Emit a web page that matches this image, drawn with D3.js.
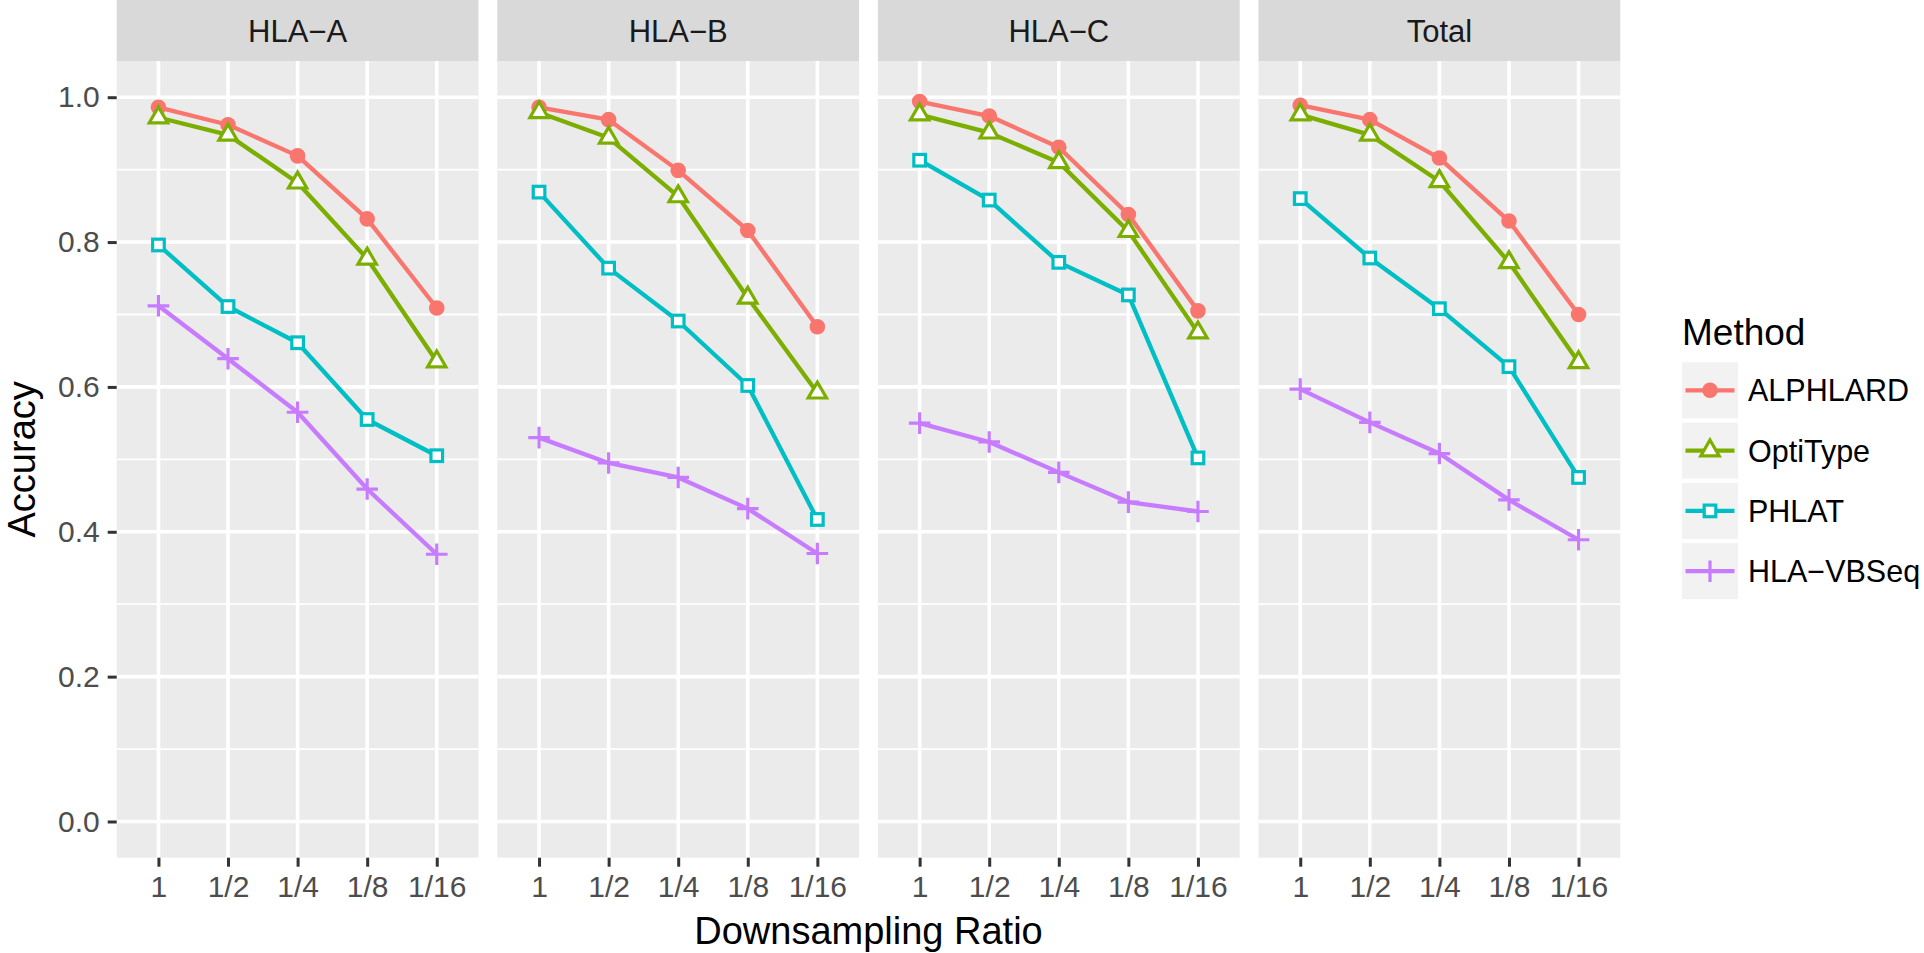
<!DOCTYPE html>
<html>
<head>
<meta charset="utf-8">
<script src="https://cdn.jsdelivr.net/npm/d3@7"></script>
<style>
  body { margin: 0; background: #fff; }
  svg { display: block; font-family: "Liberation Sans", Arial, Helvetica, sans-serif; }
</style>
</head>
<body>
<svg id="chart" width="1924" height="953"></svg>
<script>
// data
const facets = ["HLA−A", "HLA−B", "HLA−C", "Total"];
const ratios = ["1", "1/2", "1/4", "1/8", "1/16"];
const methods = ["ALPHLARD", "OptiType", "PHLAT", "HLA−VBSeq"];
const yTicks = [0, 0.2, 0.4, 0.6, 0.8, 1.0];
const yMinor = [0.1, 0.3, 0.5, 0.7, 0.9];

// one row per facet, one value per ratio
const alphlard = [
    [0.986, 0.962, 0.919, 0.832, 0.709],
    [0.986, 0.969, 0.899, 0.816, 0.683],
    [0.994, 0.974, 0.931, 0.838, 0.705],
    [0.989, 0.969, 0.916, 0.829, 0.700]
];
const optitype = [
    [0.972, 0.948, 0.882, 0.777, 0.635],
    [0.979, 0.944, 0.863, 0.723, 0.592],
    [0.976, 0.951, 0.910, 0.815, 0.675],
    [0.976, 0.948, 0.884, 0.772, 0.634]
];
const phlat = [
    [0.796, 0.711, 0.661, 0.555, 0.505],
    [0.869, 0.764, 0.691, 0.602, 0.417],
    [0.913, 0.858, 0.772, 0.727, 0.502],
    [0.860, 0.778, 0.708, 0.628, 0.475]
];
const hlavbseq = [
    [0.712, 0.639, 0.565, 0.459, 0.369],
    [0.530, 0.495, 0.475, 0.432, 0.370],
    [0.550, 0.524, 0.482, 0.441, 0.428],
    [0.597, 0.551, 0.508, 0.444, 0.389]
];
const seriesValues = [alphlard, optitype, phlat, hlavbseq];
const colors = ["#F8766D", "#7CAE00", "#00BFC4", "#C77CFF"];

const svg = d3.select("#chart");

const panelTop = 61, panelBottom = 857.7;

const facetX = d3.scaleBand()
    .domain(facets)
    .range([116.7, 1620.3])
    .paddingInner(0.0494);
const pw = facetX.bandwidth();

const x = d3.scalePoint()
    .domain(ratios)
    .range([0, pw])
    .padding(0.6);

const y = d3.scaleLinear()
    .domain([-0.05, 1.05])
    .range([panelBottom, panelTop]);

const color = d3.scaleOrdinal().domain(methods).range(colors);

// marker shapes (roughly like R's pch 19, 2, 0, 3)
function drawShape(sel, m) {
    const c = color(m);
    if (m === "ALPHLARD") {
        sel.append("circle").attr("r", 7.8).attr("fill", c);
    } else if (m === "OptiType") {
        sel.append("path").attr("d", "M0,-10.6L9.2,5.3L-9.2,5.3Z")
            .attr("fill", "#fff").attr("stroke", c).attr("stroke-width", 3.2)
            .attr("stroke-linejoin", "miter");
    } else if (m === "PHLAT") {
        sel.append("rect").attr("x", -5.8).attr("y", -5.8)
            .attr("width", 11.6).attr("height", 11.6)
            .attr("fill", "#fff").attr("stroke", c).attr("stroke-width", 3.2);
    } else {
        sel.append("path").attr("d", "M-10.8,0H10.8M0,-10.8V10.8")
            .attr("stroke", c).attr("stroke-width", 3.2);
    }
}

const line = d3.line()
    .x((d, i) => x(ratios[i]))
    .y(d => y(d));

facets.forEach((f, fi) => {
    const g = svg.append("g").attr("transform", `translate(${facetX(f)},0)`);

    // strip
    g.append("rect")
        .attr("x", 0).attr("y", 0)
        .attr("width", pw).attr("height", panelTop)
        .attr("fill", "#d9d9d9");
    g.append("text")
        .attr("x", pw / 2).attr("y", 41.7)
        .attr("text-anchor", "middle")
        .attr("font-size", "31px")
        .attr("fill", "#1a1a1a")
        .text(f);

    // panel background
    g.append("rect")
        .attr("x", 0).attr("y", panelTop)
        .attr("width", pw).attr("height", panelBottom - panelTop)
        .attr("fill", "#ebebeb");

    // grid
    g.selectAll(".minor").data(yMinor).enter().append("line")
        .attr("x1", 0).attr("x2", pw)
        .attr("y1", d => y(d)).attr("y2", d => y(d))
        .attr("stroke", "#fff").attr("stroke-width", 1.8);
    g.selectAll(".major").data(yTicks).enter().append("line")
        .attr("x1", 0).attr("x2", pw)
        .attr("y1", d => y(d)).attr("y2", d => y(d))
        .attr("stroke", "#fff").attr("stroke-width", 3.6);
    g.selectAll(".vgrid").data(ratios).enter().append("line")
        .attr("x1", d => x(d)).attr("x2", d => x(d))
        .attr("y1", panelTop).attr("y2", panelBottom)
        .attr("stroke", "#fff").attr("stroke-width", 3.6);

    // lines then points
    methods.forEach((m, mi) => {
        const vals = seriesValues[mi][fi];
        g.append("path")
            .datum(vals)
            .attr("d", line)
            .attr("fill", "none")
            .attr("stroke", color(m))
            .attr("stroke-width", 4.3)
            .attr("stroke-linejoin", "round");
    });
    methods.forEach((m, mi) => {
        const vals = seriesValues[mi][fi];
        vals.forEach((v, i) => {
            const p = g.append("g").attr("transform", `translate(${x(ratios[i])},${y(v)})`);
            drawShape(p, m);
        });
    });

    // x axis
    const xa = g.append("g")
        .attr("transform", `translate(0,${panelBottom})`)
        .call(d3.axisBottom(x).tickSize(9).tickPadding(9));
    xa.select(".domain").remove();
    xa.selectAll("line").attr("stroke", "#333").attr("stroke-width", 3);
    xa.selectAll("text").attr("font-size", "30px").attr("fill", "#4d4d4d")
        .attr("font-family", "Liberation Sans, Arial, sans-serif");

    if (fi === 0) {
        const ya = g.append("g")
            .call(d3.axisLeft(y).tickValues(yTicks).tickFormat(d3.format(".1f")).tickSize(9).tickPadding(8));
        ya.select(".domain").remove();
        ya.selectAll("line").attr("stroke", "#333").attr("stroke-width", 3);
        ya.selectAll("text").attr("font-size", "30px").attr("fill", "#4d4d4d")
            .attr("font-family", "Liberation Sans, Arial, sans-serif");
    }
});

// axis titles
svg.append("text")
    .attr("x", (116.7 + 1620.3) / 2).attr("y", 944)
    .attr("text-anchor", "middle")
    .attr("font-size", "38px")
    .text("Downsampling Ratio");

svg.append("text")
    .attr("transform", `translate(35,${(panelTop + panelBottom) / 2}) rotate(-90)`)
    .attr("text-anchor", "middle")
    .attr("font-size", "38px")
    .text("Accuracy");

// legend
const lg = svg.append("g").attr("transform", "translate(1682,0)");
lg.append("text")
    .attr("x", 0).attr("y", 345)
    .attr("font-size", "37px")
    .text("Method");

methods.forEach((m, i) => {
    const top = 362.3 + i * 60.3;
    const k = lg.append("g").attr("transform", `translate(0,${top})`);
    k.append("rect")
        .attr("width", 56).attr("height", 56)
        .attr("fill", "#f2f2f2");
    k.append("line")
        .attr("x1", 3.5).attr("x2", 52.5)
        .attr("y1", 28).attr("y2", 28)
        .attr("stroke", color(m)).attr("stroke-width", 4.3);
    drawShape(k.append("g").attr("transform", "translate(28,28)"), m);
    k.append("text")
        .attr("x", 66).attr("y", 28)
        .attr("dy", "0.36em")
        .attr("font-size", "30.5px")
        .text(m);
});
</script>
</body>
</html>
